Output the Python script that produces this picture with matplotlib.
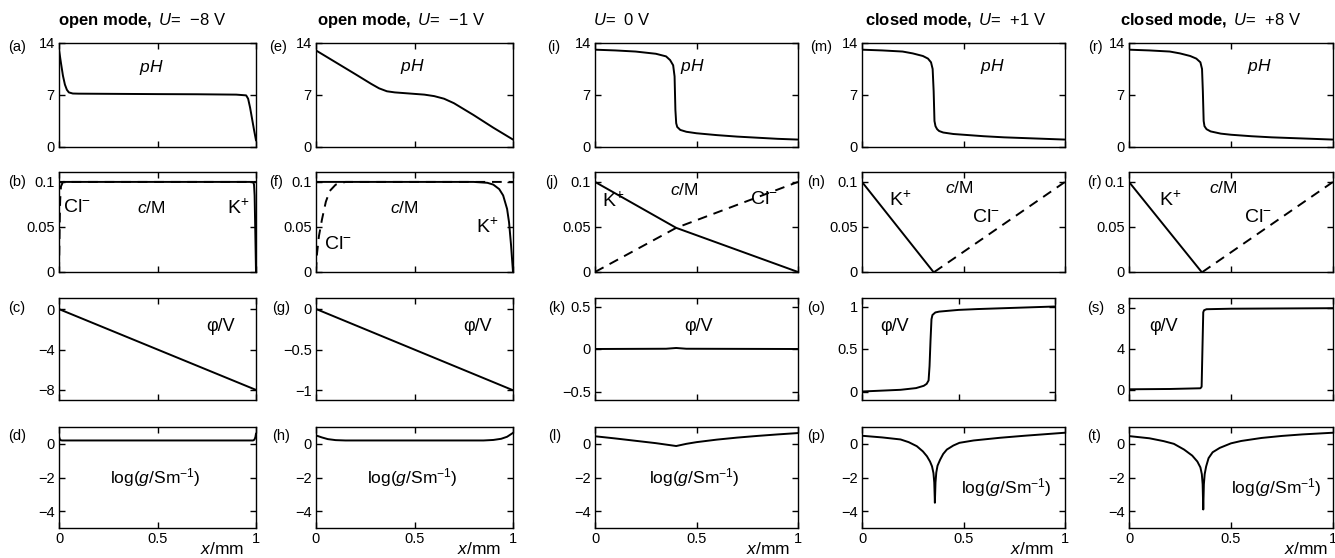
import matplotlib
matplotlib.use('Agg')
import matplotlib.pyplot as plt

plt.rcParams['font.family'] = ['Liberation Sans', 'DejaVu Sans']
plt.rcParams['mathtext.fontset'] = 'custom'
plt.rcParams['mathtext.rm'] = 'Liberation Sans'
plt.rcParams['mathtext.it'] = 'Liberation Sans:italic'
plt.rcParams['mathtext.bf'] = 'Liberation Sans:bold'

# ---------------- data (x in mm) ----------------
# column 1: open mode, U = -8 V
x_ph1 = [0, 0.01, 0.02, 0.03, 0.04, 0.05, 0.07, 0.1, 0.3, 0.5, 0.7, 0.9, 0.95, 0.96, 0.97, 0.98, 0.99, 1.0]
ph1 = [13.1, 11.3, 9.6, 8.4, 7.7, 7.35, 7.2, 7.18, 7.15, 7.12, 7.1, 7.05, 6.95, 6.5, 5.3, 3.8, 2.3, 0.9]
x_k1 = [0, 0.985, 0.99, 0.993, 0.996, 1.0]
k1 = [0.1, 0.1, 0.097, 0.085, 0.05, 0.0]
x_cl1 = [0, 0.002, 0.004, 0.006, 0.01, 0.02, 1.0]
cl1 = [0, 0.03, 0.06, 0.08, 0.095, 0.1, 0.1]
x_phi1 = [0, 0.5, 1.0]
phi1 = [0, -4, -8]
x_g1 = [0, 0.003, 0.008, 0.015, 0.5, 0.985, 0.992, 0.997, 1.0]
g1 = [0.45, 0.3, 0.22, 0.2, 0.2, 0.2, 0.25, 0.4, 0.6]

# column 2: open mode, U = -1 V
x_ph2 = [0, 0.1, 0.2, 0.28, 0.32, 0.36, 0.4, 0.45, 0.5, 0.55, 0.6, 0.65, 0.7, 0.8, 0.9, 1.0]
ph2 = [13.0, 11.4, 9.8, 8.5, 7.9, 7.5, 7.35, 7.25, 7.15, 7.05, 6.85, 6.5, 5.9, 4.3, 2.6, 1.0]
x_k2 = [0, 0.8, 0.87, 0.9, 0.93, 0.95, 0.97, 0.98, 0.99, 1.0]
k2 = [0.1, 0.1, 0.099, 0.097, 0.092, 0.085, 0.07, 0.055, 0.03, 0.0]
x_cl2 = [0, 0.005, 0.015, 0.03, 0.05, 0.07, 0.1, 0.15, 1.0]
cl2 = [0, 0.02, 0.04, 0.058, 0.078, 0.09, 0.097, 0.1, 0.1]
x_phi2 = [0, 0.5, 1.0]
phi2 = [0, -0.5, -1.0]
x_g2 = [0, 0.03, 0.06, 0.1, 0.15, 0.5, 0.85, 0.9, 0.94, 0.97, 1.0]
g2 = [0.5, 0.38, 0.28, 0.22, 0.2, 0.2, 0.2, 0.23, 0.3, 0.42, 0.65]

# column 3: U = 0 V
x_ph3 = [0, 0.1, 0.2, 0.3, 0.35, 0.37, 0.385, 0.392, 0.396, 0.4, 0.405, 0.42, 0.45, 0.5, 0.6, 0.7, 0.8, 0.9, 1.0]
ph3 = [13.1, 13.0, 12.85, 12.55, 12.2, 11.7, 11.0, 9.5, 5.0, 3.2, 2.7, 2.3, 2.05, 1.85, 1.6, 1.4, 1.25, 1.1, 1.0]
x_k3 = [0, 0.4, 1.0]
k3 = [0.1, 0.049, 0.0]
x_cl3 = [0, 0.4, 1.0]
cl3 = [0.0, 0.049, 0.1]
x_phi3 = [0, 0.35, 0.4, 0.45, 1.0]
phi3 = [0, 0.003, 0.012, 0.003, 0]
x_g3 = [0, 0.1, 0.2, 0.3, 0.4, 0.45, 0.5, 0.6, 0.7, 0.8, 0.9, 1.0]
g3 = [0.45, 0.32, 0.18, 0.04, -0.13, 0.0, 0.1, 0.25, 0.37, 0.47, 0.56, 0.64]

# column 4: closed mode, U = +1 V
x_ph4 = [0, 0.1, 0.2, 0.25, 0.3, 0.325, 0.34, 0.348, 0.353, 0.357, 0.362, 0.37, 0.38, 0.4, 0.45, 0.5, 0.6, 0.7, 0.8, 0.9, 1.0]
ph4 = [13.1, 13.0, 12.85, 12.6, 12.25, 11.9, 11.4, 10.5, 7.5, 3.5, 2.8, 2.4, 2.15, 1.95, 1.75, 1.65, 1.45, 1.3, 1.2, 1.1, 1.0]
x_k4 = [0, 0.352]
k4 = [0.1, 0.0]
x_cl4 = [0.356, 1.0]
cl4 = [0.0, 0.1]
x_phi4 = [0, 0.1, 0.2, 0.28, 0.32, 0.335, 0.345, 0.35, 0.355, 0.36, 0.365, 0.38, 0.4, 0.5, 0.6, 0.8, 1.0]
phi4 = [0, 0.01, 0.02, 0.04, 0.067, 0.09, 0.13, 0.3, 0.6, 0.85, 0.9, 0.93, 0.94, 0.96, 0.97, 0.985, 1.0]
x_g4 = [0, 0.1, 0.19, 0.23, 0.27, 0.3, 0.32, 0.335, 0.345, 0.352, 0.356, 0.359, 0.362, 0.366, 0.372, 0.385, 0.4, 0.418, 0.45, 0.48, 0.55, 0.68, 0.8, 1.0]
g4 = [0.48, 0.38, 0.26, 0.1, -0.14, -0.45, -0.74, -1.05, -1.34, -1.74, -2.3, -3.5, -2.3, -1.7, -1.3, -0.94, -0.6, -0.34, -0.1, 0.06, 0.2, 0.36, 0.48, 0.66]

# column 5: closed mode, U = +8 V
x_ph5 = [0, 0.1, 0.2, 0.25, 0.3, 0.33, 0.35, 0.358, 0.362, 0.366, 0.37, 0.38, 0.4, 0.45, 0.5, 0.6, 0.7, 0.8, 0.9, 1.0]
ph5 = [13.1, 13.0, 12.85, 12.6, 12.25, 11.9, 11.4, 10.5, 7.5, 3.5, 2.8, 2.4, 2.1, 1.8, 1.65, 1.45, 1.3, 1.2, 1.1, 1.0]
x_k5 = [0, 0.356]
k5 = [0.1, 0.0]
x_cl5 = [0.36, 1.0]
cl5 = [0.0, 0.1]
x_phi5 = [0, 0.2, 0.35, 0.356, 0.36, 0.364, 0.368, 0.38, 0.5, 1.0]
phi5 = [0.05, 0.08, 0.15, 0.3, 4.0, 7.6, 7.8, 7.9, 7.95, 8.0]
x_g5 = [0, 0.1, 0.17, 0.22, 0.27, 0.31, 0.335, 0.35, 0.357, 0.361, 0.364, 0.367, 0.371, 0.378, 0.39, 0.41, 0.445, 0.5, 0.55, 0.65, 0.75, 0.85, 1.0]
g5 = [0.46, 0.33, 0.16, 0.0, -0.34, -0.7, -1.05, -1.4, -1.8, -2.4, -3.9, -2.4, -1.8, -1.35, -0.85, -0.5, -0.24, 0.03, 0.17, 0.35, 0.47, 0.56, 0.66]

titles = [r'$\mathbf{open\ mode,}$ $\mathit{U}$=  −8 V',
          r'$\mathbf{open\ mode,}$ $\mathit{U}$=  −1 V',
          r'$\mathit{U}$=  0 V',
          r'$\mathbf{closed\ mode,}$ $\mathit{U}$=  +1 V',
          r'$\mathbf{closed\ mode,}$ $\mathit{U}$=  +8 V']
letters = [['(a)', '(b)', '(c)', '(d)'],
           ['(e)', '(f)', '(g)', '(h)'],
           ['(i)', '(j)', '(k)', '(l)'],
           ['(m)', '(n)', '(o)', '(p)'],
           ['(r)', '(r)', '(s)', '(t)']]

ph_ticks = [0, 7, 14]
ph_labels = ['0', '7', '14']
c_ticks = [0, 0.05, 0.1]
c_labels = ['0', '0.05', '0.1']
g_ticks = [-4, -2, 0]
g_labels = ['−4', '−2', '0']
phi_ticks = [[-8, -4, 0], [-1, -0.5, 0], [-0.5, 0, 0.5], [0, 0.5, 1], [0, 4, 8]]
phi_labels = [['−8', '−4', '0'], ['−1', '−0.5', '0'], ['−0.5', '0', '0.5'], ['0', '0.5', '1'], ['0', '4', '8']]
phi_lims = [(-9, 1.1), (-1.12, 0.135), (-0.6, 0.6), (-0.1, 1.1), (-1, 9)]
x_ticks = [0, 0.5, 1]
x_labels = ['0', '0.5', '1']

ph_x = [x_ph1, x_ph2, x_ph3, x_ph4, x_ph5]
ph_y = [ph1, ph2, ph3, ph4, ph5]
k_x = [x_k1, x_k2, x_k3, x_k4, x_k5]
k_y = [k1, k2, k3, k4, k5]
cl_x = [x_cl1, x_cl2, x_cl3, x_cl4, x_cl5]
cl_y = [cl1, cl2, cl3, cl4, cl5]
phi_x = [x_phi1, x_phi2, x_phi3, x_phi4, x_phi5]
phi_y = [phi1, phi2, phi3, phi4, phi5]
g_x = [x_g1, x_g2, x_g3, x_g4, x_g5]
g_y = [g1, g2, g3, g4, g5]

# ---------------- layout (pixels) ----------------
W, H = 1335, 558
fig = plt.figure(figsize=(W / 100, H / 100), dpi=100)

col_left = [59, 316, 595, 862, 1129]
col_width = [197, 197, 203, 203, 204]
row_top = [43, 172, 298, 427]
row_h = [104, 100, 102, 101]
letter_x = [[8, 8, 8, 8], [269, 269, 272, 272], [547, 545, 548, 548],
            [810, 807, 807, 807], [1088, 1087, 1087, 1087]]
letter_y = [47, 182, 308, 436]
title_x = [58, 317, 593, 865, 1120]

# in-panel label positions (axes fraction)
ph_pos = [(0.47, 0.76), (0.49, 0.77), (0.48, 0.77), (0.64, 0.77), (0.64, 0.77)]
cm_pos = [(0.47, 0.64), (0.45, 0.64), (0.44, 0.82), (0.48, 0.84), (0.46, 0.84)]
kp_pos = [(0.91, 0.64), (0.87, 0.45), (0.09, 0.71), (0.19, 0.72), (0.20, 0.72)]
cl_pos = [(0.09, 0.64), (0.11, 0.27), (0.83, 0.72), (0.61, 0.54), (0.63, 0.54)]
phi_pos = [(0.82, 0.72), (0.82, 0.72), (0.51, 0.72), (0.17, 0.72), (0.17, 0.72)]
g_pos = [(0.49, 0.5), (0.49, 0.5), (0.49, 0.5), (0.71, 0.4), (0.72, 0.4)]
xl_pos = [0.83, 0.83, 0.85, 0.84, 0.87]

lw = 1.4
fs_tick = 10.5
fs_lab = 12.5


def make_ax(left, top, w, h):
    ax = fig.add_axes([left / W, 1 - (top + h) / H, w / W, h / H])
    ax.set_xlim(0, 1)
    ax.tick_params(direction='in', top=True, right=True, length=4, width=1,
                   labelsize=fs_tick, pad=3)
    for s in ax.spines.values():
        s.set_linewidth(1.0)
    ax.set_xticks(x_ticks)
    ax.set_xticklabels([])
    return ax


for j in range(5):
    # pH
    ax = make_ax(col_left[j], row_top[0], col_width[j], row_h[0])
    ax.plot(ph_x[j], ph_y[j], color='black', lw=lw)
    ax.set_ylim(0, 14)
    ax.set_yticks(ph_ticks, ph_labels)
    ax.text(*ph_pos[j], r'$\mathit{pH}$', transform=ax.transAxes, ha='center', va='center', fontsize=fs_lab)

    # concentrations
    ax = make_ax(col_left[j], row_top[1], col_width[j], row_h[1])
    ax.plot(k_x[j], k_y[j], color='black', lw=lw)
    ax.plot(cl_x[j], cl_y[j], color='black', lw=lw, linestyle=(0, (5, 3.5)))
    ax.set_ylim(0, 0.111)
    ax.set_yticks(c_ticks, c_labels)
    ax.text(*cm_pos[j], r'$\mathit{c}$/M', transform=ax.transAxes, ha='center', va='center', fontsize=fs_lab)
    ax.text(*kp_pos[j], r'K$^{+}$', transform=ax.transAxes, ha='center', va='center', fontsize=14)
    ax.text(*cl_pos[j], r'Cl$^{-}$', transform=ax.transAxes, ha='center', va='center', fontsize=14)

    # potential
    w_phi = 193 if j == 3 else col_width[j]
    ax = make_ax(col_left[j], row_top[2], w_phi, row_h[2])
    ax.plot(phi_x[j], phi_y[j], color='black', lw=lw)
    ax.set_ylim(*phi_lims[j])
    ax.set_yticks(phi_ticks[j], phi_labels[j])
    ax.text(*phi_pos[j], 'φ/V', transform=ax.transAxes, ha='center', va='center', fontsize=13)

    # conductivity
    ax = make_ax(col_left[j], row_top[3], col_width[j], row_h[3])
    ax.plot(g_x[j], g_y[j], color='black', lw=lw)
    ax.set_ylim(-5, 1)
    ax.set_yticks(g_ticks, g_labels)
    ax.set_xticklabels(x_labels)
    ax.text(*g_pos[j], r'log($\mathit{g}$/Sm$^{-1}$)', transform=ax.transAxes, ha='center', va='center', fontsize=fs_lab)
    ax.text(xl_pos[j], -0.205, r'$\mathit{x}$/mm', transform=ax.transAxes, ha='center', va='center', fontsize=fs_lab)

    # panel letters and column title
    for i in range(4):
        fig.text(letter_x[j][i] / W, 1 - letter_y[i] / H, letters[j][i],
                 ha='left', va='center', fontsize=fs_tick)
    fig.text(title_x[j] / W, 1 - 20 / H, titles[j], ha='left', va='center', fontsize=12)

fig.savefig('out.png', dpi=100)
